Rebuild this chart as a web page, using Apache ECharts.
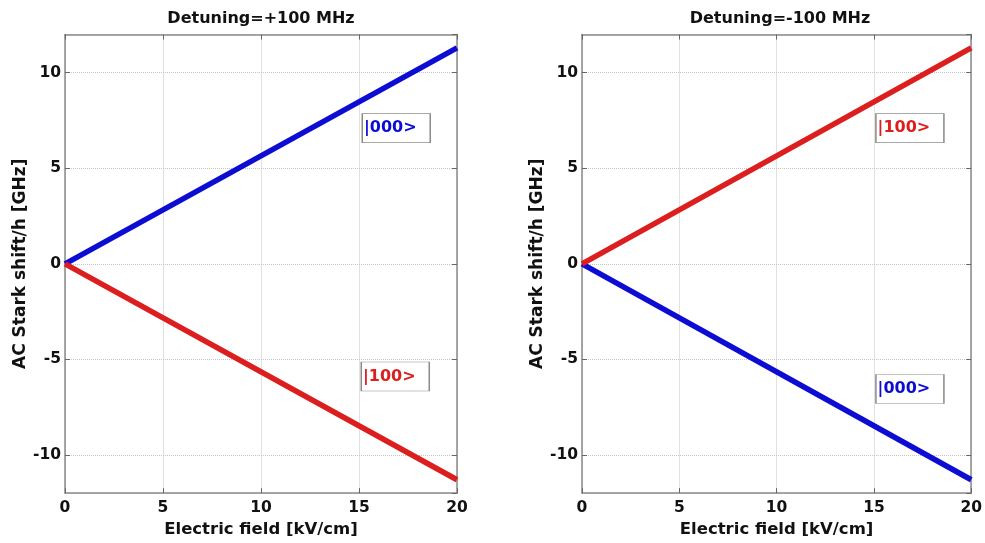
<!DOCTYPE html>
<html>
<head>
<meta charset="utf-8">
<script src="https://cdn.jsdelivr.net/npm/echarts@6/dist/echarts.min.js"></script>
<style>
  html, body { margin: 0; padding: 0; background: #fff; }
  #chart { width: 985px; height: 543px; }
</style>
</head>
<body>
<div id="chart"></div>
<script>
// Electric field values (kV/cm) at which the shifts are sampled
const fieldKVcm = [0, 20];

// AC Stark shift / h in GHz, positive detuning (+100 MHz)
const plus000 = [0, 11.3];
const plus100 = [0, -11.3];

// AC Stark shift / h in GHz, negative detuning (-100 MHz)
const minus100 = [0, 11.3];
const minus000 = [0, -11.3];

const panelTitles = ['Detuning=+100 MHz', 'Detuning=-100 MHz'];
const stateNames = ['|000>', '|100>'];
const xAxisName = 'Electric field [kV/cm]';
const yAxisName = 'AC Stark shift/h [GHz]';

const FONT = 'DejaVu Sans';
const BLUE = '#0c0cd2';
const RED = '#dc1e1e';
const AXIS_GREY = '#8a8a8a';

function pairs(xs, ys) {
  return xs.map((x, i) => [x, ys[i]]);
}

const grids = [
  { left: 65, top: 34.5, width: 392, height: 461 },
  { left: 582, top: 34.5, width: 392, height: 461 }
];

const frameLine = { show: true, onZero: false, lineStyle: { color: AXIS_GREY, width: 1.5 } };
const innerTick = { show: true, inside: true, length: 5, lineStyle: { color: '#666' } };
const dottedGrid = { show: true, lineStyle: { color: '#c4c4c4', type: 'dotted', width: 1 } };

function xAxes(gi) {
  return [
    {
      type: 'value', gridIndex: gi, min: 0, max: 20, interval: 5,
      name: xAxisName, nameLocation: 'middle', nameGap: 22,
      nameTextStyle: { fontFamily: FONT, fontWeight: 'bold', fontSize: 16.5, color: '#111' },
      axisLine: frameLine,
      axisTick: innerTick,
      axisLabel: { fontFamily: FONT, fontWeight: 'bold', fontSize: 15.5, color: '#111', margin: 7 },
      splitLine: dottedGrid
    },
    {
      type: 'value', gridIndex: gi, position: 'top', min: 0, max: 20, interval: 5,
      axisLine: frameLine,
      axisTick: innerTick,
      axisLabel: { show: false },
      splitLine: { show: false }
    }
  ];
}

function yAxes(gi) {
  return [
    {
      type: 'value', gridIndex: gi, min: -12, max: 12, splitNumber: 5,
      name: yAxisName, nameLocation: 'middle', nameGap: 36, nameRotate: 90,
      nameTextStyle: { fontFamily: FONT, fontWeight: 'bold', fontSize: 17, color: '#111' },
      axisLine: frameLine,
      axisTick: innerTick,
      axisLabel: {
        fontFamily: FONT, fontWeight: 'bold', fontSize: 15.5, color: '#111', margin: 4,
        showMinLabel: false, showMaxLabel: false
      },
      splitLine: dottedGrid
    },
    {
      type: 'value', gridIndex: gi, position: 'right', min: -12, max: 12, splitNumber: 5,
      axisLine: frameLine,
      axisTick: innerTick,
      axisLabel: { show: false },
      splitLine: { show: false }
    }
  ];
}

function stateBox(name, color, coord) {
  return {
    silent: true,
    symbol: 'rect',
    symbolSize: [68, 29],
    itemStyle: { color: '#fff', borderColor: '#8c8c8c', borderWidth: 1 },
    label: {
      show: true, position: 'inside', formatter: '{b}',
      color: color, fontFamily: FONT, fontWeight: 'bold', fontSize: 16,
      offset: [-6, 0]
    },
    data: [{ name: name, coord: coord }]
  };
}

function lineSeries(xi, yi, values, color, box) {
  return {
    type: 'line',
    xAxisIndex: xi, yAxisIndex: yi,
    data: pairs(fieldKVcm, values),
    showSymbol: false,
    lineStyle: { color: color, width: 5.5 },
    itemStyle: { color: color },
    animation: false,
    markPoint: box
  };
}

const chart = echarts.init(document.getElementById('chart'));
chart.setOption({
  animation: false,
  backgroundColor: '#fff',
  title: [
    { text: panelTitles[0], left: 256, top: 6, textAlign: 'center',
      textStyle: { fontFamily: FONT, fontWeight: 'bold', fontSize: 16, color: '#111' } },
    { text: panelTitles[1], left: 775, top: 6, textAlign: 'center',
      textStyle: { fontFamily: FONT, fontWeight: 'bold', fontSize: 16, color: '#111' } }
  ],
  grid: grids,
  xAxis: [...xAxes(0), ...xAxes(1)],
  yAxis: [...yAxes(0), ...yAxes(1)],
  series: [
    lineSeries(0, 0, plus000, BLUE, stateBox(stateNames[0], BLUE, [16.9, 7.1])),
    lineSeries(0, 0, plus100, RED, stateBox(stateNames[1], RED, [16.85, -5.9])),
    lineSeries(2, 2, minus000, BLUE, stateBox(stateNames[0], BLUE, [16.85, -6.55])),
    lineSeries(2, 2, minus100, RED, stateBox(stateNames[1], RED, [16.85, 7.1]))
  ]
});
</script>
</body>
</html>
